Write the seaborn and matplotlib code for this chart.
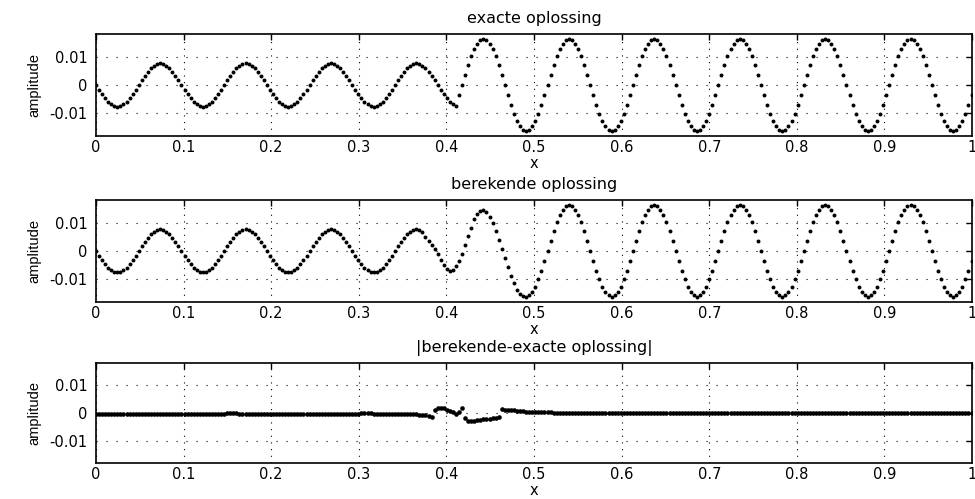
import numpy as np
import matplotlib
matplotlib.use("Agg")
import matplotlib.pyplot as plt
import seaborn as sns

# ---------------- data (amplitudes in units of 1e-4) ----------------
x_step = 0.0975 / 28          # sample spacing of the dotted curves

exact_e4 = [
    0, -17, -33, -47, -59, -68, -74, -76, -74, -68, -59, -47, -33, -17, 0, 17, 33, 47, 59, 68, 74, 76, 74, 68, 59, 47, 33, 17,
    0, -17, -33, -47, -59, -68, -74, -76, -74, -68, -59, -47, -33, -17, 0, 17, 33, 47, 59, 68, 74, 76, 74, 68, 59, 47, 33, 17,
    0, -17, -33, -47, -59, -68, -74, -76, -74, -68, -59, -47, -33, -17, 0, 17, 33, 47, 59, 68, 74, 76, 74, 68, 59, 47, 33, 17,
    0, -17, -33, -47, -59, -68, -74, -76, -74, -68, -59, -47, -33, -17, 0, 17, 33, 47, 59, 68, 74, 76, 74, 68, 59, 47, 33, 17,
    0, -17, -33, -47, -59, -68, -74,
    -36,
    0, 36, 70, 101, 127, 146, 158, 162, 158, 146, 127, 101, 70, 36, 0, -36, -70, -101, -127, -146, -158, -162, -158, -146, -127, -101, -70, -36,
    0, 36, 70, 101, 127, 146, 158, 162, 158, 146, 127, 101, 70, 36, 0, -36, -70, -101, -127, -146, -158, -162, -158, -146, -127, -101, -70, -36,
    0, 36, 70, 101, 127, 146, 158, 162, 158, 146, 127, 101, 70, 36, 0, -36, -70, -101, -127, -146, -158, -162, -158, -146, -127, -101, -70, -36,
    0, 36, 70, 101, 127, 146, 158, 162, 158, 146, 127, 101, 70, 36, 0, -36, -70, -101, -127, -146, -158, -162, -158, -146, -127, -101, -70, -36,
    0, 36, 70, 101, 127, 146, 158, 162, 158, 146, 127, 101, 70, 36, 0, -36, -70, -101, -127, -146, -158, -162, -158, -146, -127, -101, -70, -36,
    0, 36, 70, 101, 127, 146, 158, 162, 158, 146, 127, 101, 70, 36, 0, -36, -70, -101, -127, -146, -158, -162, -158, -146, -127, -101, -70, -36,
]

computed_e4 = [
    0, -17, -33, -47, -59, -68, -74, -76, -74, -68, -59, -47, -33, -17, 0, 17, 33, 47, 59, 68, 74, 76, 74, 68, 59, 47, 33, 17,
    0, -17, -33, -47, -59, -68, -74, -76, -74, -68, -59, -47, -33, -17, 0, 17, 33, 47, 59, 68, 74, 76, 74, 68, 59, 47, 33, 17,
    0, -17, -33, -47, -59, -68, -74, -76, -74, -68, -59, -47, -33, -17, 0, 17, 33, 47, 59, 68, 74, 76, 74, 68, 59, 47, 33, 17,
    0, -17, -33, -47, -59, -68, -74, -76, -74, -68, -59, -47, -33, -17, 0, 17, 33, 47, 59, 68, 74, 76, 74, 68,
    50, 35, 20, 5, -12, -33, -50, -63, -70, -67, -54, -37, -10, 22, 52, 82, 112, 132, 142, 144,
    136, 120, 98, 70, 38, 6, -25, -58, -88, -115, -138, -152, -160, -162,
    -158, -146, -127, -101, -70, -36,
    0, 36, 70, 101, 127, 146, 158, 162, 158, 146, 127, 101, 70, 36, 0, -36, -70, -101, -127, -146, -158, -162, -158, -146, -127, -101, -70, -36,
    0, 36, 70, 101, 127, 146, 158, 162, 158, 146, 127, 101, 70, 36, 0, -36, -70, -101, -127, -146, -158, -162, -158, -146, -127, -101, -70, -36,
    0, 36, 70, 101, 127, 146, 158, 162, 158, 146, 127, 101, 70, 36, 0, -36, -70, -101, -127, -146, -158, -162, -158, -146, -127, -101, -70, -36,
    0, 36, 70, 101, 127, 146, 158, 162, 158, 146, 127, 101, 70, 36, 0, -36, -70, -101, -127, -146, -158, -162, -158, -146, -127, -101, -70, -36,
    0, 36, 70, 101, 127, 146, 158, 162, 158, 146, 127, 101, 70, 36, 0, -36, -70, -101, -127, -146, -158, -162, -158, -146, -127, -101, -70, -36,
]

difference_e4 = [
    -2, -2, -2, -2, -2, -2, -2, -2, -2, -2,
    -2, -2, -2, -2, -2, -2, -2, -2, -2, -2,
    -2, -2, -2, -2, -2, -2, -2, -2, -2, -2,
    -2, -2, -2, -2, -2, -2, -2, -2, -2, -2,
    -2, -2, -2, -1, -1, -1, -1, -2, -2, -2,
    -2, -2, -2, -2, -2, -2, -2, -2, -2, -2,
    -2, -2, -2, -2, -2, -2, -2, -2, -2, -2,
    -2, -2, -2, -2, -2, -2, -2, -2, -2, -2,
    -2, -2, -2, -2, -2, -2, -2, -1, -1, -1,
    -1, -2, -2, -2, -2, -2, -2, -2, -2, -2,
    -3, -3, -3, -3, -4, -4, -5, -6, -7, -9,
    -12, 12, 19, 20, 17, 13, 8, 3, -4, 6, 19, -18,
    -28, -29, -27, -25, -23, -22, -21, -20, -19, -17, -12,
    14, 13, 12, 11, 10, 9, 8, 7, 6, 5, 4,
    4, 3, 3, 3, 3, 3, 2, 2, 2, 2, 2, 2, 2, 2, 2, 2,
    1, 1, 1, 1, 1, 1, 1, 1, 1, 1, 1, 1, 1, 1, 1, 1, 1, 1, 1, 1,
    1, 1, 1, 1, 1, 1, 1, 1, 1, 1, 1, 1, 1, 1, 1, 1, 1, 1, 1, 1,
    0, 0, 0, 0, 0, 0, 0, 0, 0, 0, 0, 0, 0, 0, 0, 0, 0, 0, 0, 0, 0, 0,
    0, 0, 0, 0, 0, 0, 0, 0, 0, 0, 0, 0, 0, 0, 0, 0, 0, 0, 0, 0, 0, 0,
    0, 0, 0, 0, 0, 0, 0, 0, 0, 0, 0, 0, 0, 0, 0, 0, 0, 0, 0, 0, 0, 0,
    0, 0, 0, 0, 0, 0, 0, 0, 0, 0, 0, 0, 0, 0, 0, 0, 0, 0, 0, 0, 0, 0,
]

titles = ["exacte oplossing", "berekende oplossing", "|berekende-exacte oplossing|"]
x_label = "x"
y_label = "amplitude"
x_ticks = [0, 0.1, 0.2, 0.3, 0.4, 0.5, 0.6, 0.7, 0.8, 0.9, 1.0]
x_tick_labels = ["0", "0.1", "0.2", "0.3", "0.4", "0.5", "0.6", "0.7", "0.8", "0.9", "1"]
y_ticks = [-0.01, 0, 0.01]
y_tick_labels = ["-0.01", "0", "0.01"]

# ---------------- plotting ----------------
sns.set_theme(style="white")
plt.rcParams["font.family"] = ["DejaVu Sans"]
plt.rcParams["axes.edgecolor"] = "black"

series = [exact_e4, computed_e4, difference_e4]
marker_sizes = [8, 8, 11]
rects = [
    (0.0985, 0.7275, 0.8985, 0.2044),
    (0.0985, 0.3954, 0.8985, 0.2038),
    (0.0985, 0.0717, 0.8985, 0.2004),
]

fig = plt.figure(figsize=(9.75, 4.99), dpi=100)
axes = []
for vals, title, rect, ms in zip(series, titles, rects, marker_sizes):
    y = np.asarray(vals, dtype=float) * 1e-4
    x = np.arange(len(y)) * x_step
    ax = fig.add_axes(rect)
    sns.scatterplot(x=x, y=y, ax=ax, color="black", s=ms, linewidth=0,
                    marker="o", legend=False, zorder=3)
    ax.set_xlim(0, 1)
    ax.set_ylim(-0.018, 0.018)
    ax.set_xticks(x_ticks, x_tick_labels)
    ax.set_yticks(y_ticks, y_tick_labels)
    ax.tick_params(direction="in", length=4, width=1, top=True, right=True,
                   labelsize=10.5, colors="black")
    ax.tick_params(axis="x", pad=3)
    ax.tick_params(axis="y", pad=6)
    ax.grid(True, axis="x", color="black", linestyle=(0, (1, 5)), linewidth=0.8)
    ax.grid(True, axis="y", color="black", linestyle=(0, (1, 8)), linewidth=0.8)
    for sp in ax.spines.values():
        sp.set_color("black")
        sp.set_linewidth(1.2)
    ax.set_title(title, fontsize=11.5, pad=8, color="black")
    ax.set_xlabel(x_label, fontsize=10.5, color="black")
    ax.set_ylabel(y_label, fontsize=10.5, labelpad=6, color="black",
                  family=["Liberation Sans", "DejaVu Sans"])
    axes.append(ax)

# place each "x" label directly below its tick labels
fig.canvas.draw()
renderer = fig.canvas.get_renderer()
for ax in axes:
    ymin = min(t.get_window_extent(renderer).y0 for t in ax.get_xticklabels())
    _, ya = ax.transAxes.inverted().transform((0, ymin - 1))
    ax.xaxis.set_label_coords(0.5, ya)

fig.savefig("out.png", dpi=100)
